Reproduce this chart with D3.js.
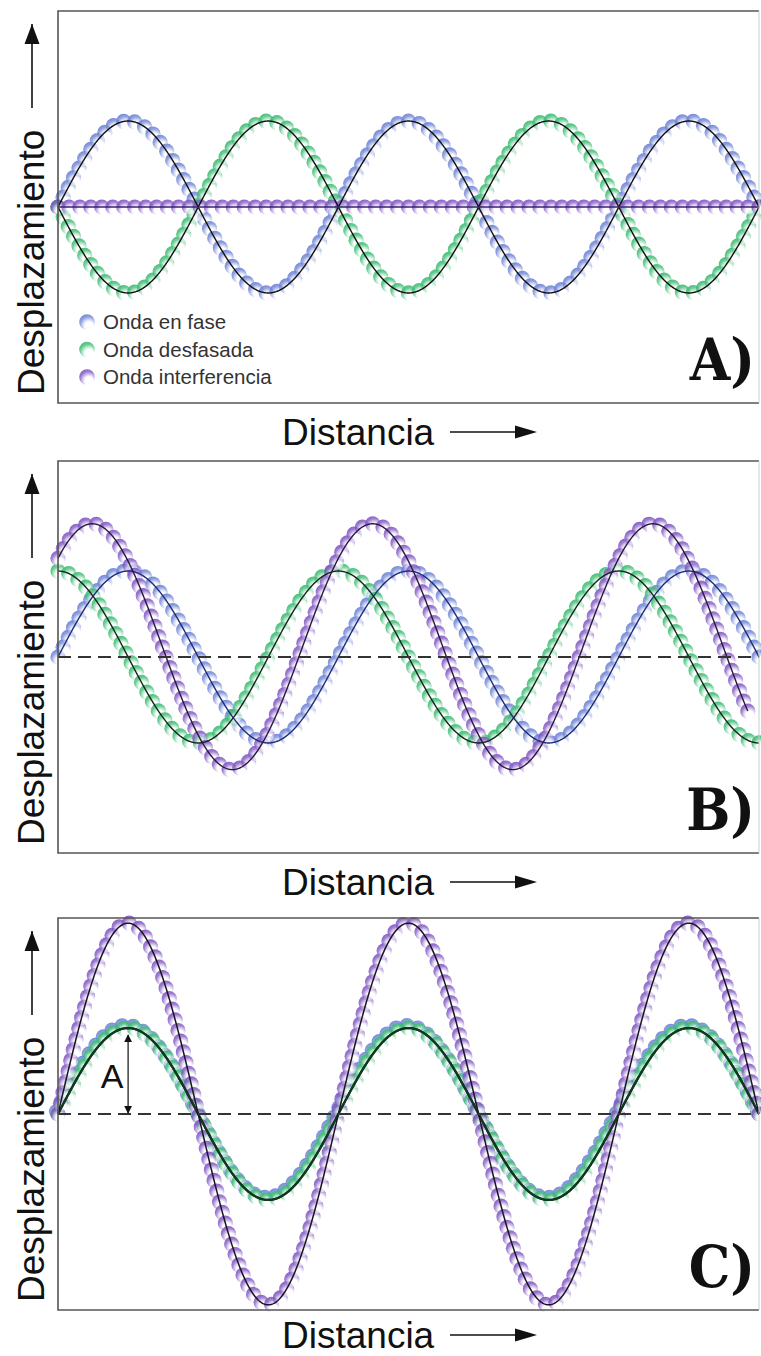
<!DOCTYPE html>
<html><head><meta charset="utf-8">
<script src="https://cdn.jsdelivr.net/npm/d3@7"></script>
<style>body{margin:0;background:#fff} svg{display:block}</style>
</head><body>
<script>
// Wave names (legend), panel tags and axis titles
const waveNames = ["Onda en fase", "Onda desfasada", "Onda interferencia"];
const panelLabels = ["A)", "B)", "C)"];
const axisTitles = ["Desplazamiento", "Distancia"];
const amplitudeMark = "A";

// Amplitude (in units of the in-phase wave), phase (degrees) and vertical offset of each wave, per panel
const amplitudesA = [1, 1, 0];
const phasesA = [0, 180, 0];
const offsetsA = [0, 0, 0];
const amplitudesB = [1, 1, 1.43];
const phasesB = [0, 90, 46];
const offsetsB = [0, 0, 0.12];
const amplitudesC = [1, 1, 2.22];
const phasesC = [0, 0, 0];
const offsetsC = [0, 0, 0];
// How many wavelengths each wave runs across its panel
const extentsA = [2.5, 2.5, 2.5];
const extentsB = [2.5, 2.5, 2.46];
const extentsC = [2.5, 2.5, 2.5];

const xDomain = [0, 2.5];      // distance, in wavelengths
const yDomain = [-2.28, 2.28]; // displacement

const panels = [
  {amp: amplitudesA, phase: phasesA, off: offsetsA, ext: extentsA, dashed: false, legend: true},
  {amp: amplitudesB, phase: phasesB, off: offsetsB, ext: extentsB, dashed: true},
  {amp: amplitudesC, phase: phasesC, off: offsetsC, ext: extentsC, dashed: true, mark: true}
];

const W = 761, H = 1356;
const left = 58, right = 759, panelH = 392;
const tops = [11, 461, 918];
const xTitleGap = [42, 42, 38];

const dotColors = ["#6f84d6", "#3dbd74", "#8258c4"];
const lineColors = [
  ["#111", "#111", "#3d2270"],
  ["#1f2c78", "#14261a", "#2a1840"],
  ["#14261a", "#0d3a1d", "#1c1424"]
];
const lineWidths = [[1.4, 1.4, 1.3], [1.4, 1.4, 1.4], [2.2, 2.2, 1.5]];

const svg = d3.select("body").append("svg").attr("width", W).attr("height", H);
const defs = svg.append("defs");
dotColors.forEach((c, i) => {
  const g = defs.append("radialGradient").attr("id", "dot" + i)
    .attr("cx", 0.6).attr("cy", 0.7).attr("r", 0.72).attr("fx", 0.64).attr("fy", 0.78);
  g.append("stop").attr("offset", "0%").attr("stop-color", "#fff").attr("stop-opacity", 0.9);
  g.append("stop").attr("offset", "35%").attr("stop-color", "#fff").attr("stop-opacity", 0.55);
  g.append("stop").attr("offset", "75%").attr("stop-color", c).attr("stop-opacity", 0.75);
  g.append("stop").attr("offset", "100%").attr("stop-color", c).attr("stop-opacity", 0.95);
});
defs.append("marker").attr("id", "head").attr("viewBox", "0 0 10 10")
  .attr("refX", 9).attr("refY", 5).attr("markerWidth", 8).attr("markerHeight", 8)
  .attr("orient", "auto-start-reverse").attr("markerUnits", "userSpaceOnUse")
  .append("path").attr("d", "M0,0L10,5L0,10Z").attr("fill", "#111");

const x = d3.scaleLinear().domain(xDomain).range([left, right]);

panels.forEach((p, pi) => {
  const top = tops[pi], bottom = top + panelH;
  const y = d3.scaleLinear().domain(yDomain).range([bottom, top]);
  const g = svg.append("g");

  const line = d3.line().x(d => x(d[0])).y(d => y(d[1]));
  const paths = p.amp.map((a, si) => {
    const pts = d3.range(0, p.ext[si] + 1e-9, 0.002)
      .map(t => [t, p.off[si] + a * Math.sin(2 * Math.PI * t + p.phase[si] * Math.PI / 180)]);
    return line(pts);
  });

  // dots evenly spaced along each wave
  p.amp.forEach((a, si) => {
    const tmp = g.append("path").attr("d", paths[si]).attr("fill", "none");
    const len = tmp.node().getTotalLength();
    const n = Math.round(len / 11);
    const dots = d3.range(n + 1).map(k => tmp.node().getPointAtLength(k * len / n));
    tmp.remove();
    const dg = g.append("g");
    if (pi === 2 && si === 0) dg.attr("transform", "translate(-1.5,-2.5)");
    dg.selectAll("circle").data(dots).join("circle")
      .attr("cx", d => d.x).attr("cy", d => d.y).attr("r", 7.6)
      .attr("fill", `url(#dot${si})`);
  });

  p.amp.forEach((a, si) => {
    g.append("path").attr("d", paths[si]).attr("fill", "none")
      .attr("stroke", lineColors[pi][si]).attr("stroke-width", lineWidths[pi][si]);
  });

  if (p.dashed) {
    g.append("line").attr("x1", left).attr("x2", right)
      .attr("y1", y(0)).attr("y2", y(0))
      .attr("stroke", "#333").attr("stroke-width", 1.8).attr("stroke-dasharray", "13,7");
  }

  // frame
  g.append("path").attr("d", `M${right},${top}H${left}V${bottom}H${right}`)
    .attr("fill", "none").attr("stroke", "#555").attr("stroke-width", 1.6);
  g.append("line").attr("x1", right).attr("x2", right).attr("y1", top).attr("y2", bottom)
    .attr("stroke", "#ccc").attr("stroke-width", 1);

  // amplitude marker
  if (p.mark) {
    const xm = x(0.25);
    g.append("line").attr("x1", xm).attr("x2", xm).attr("y1", y(0) - 1).attr("y2", y(p.amp[0]) + 7)
      .attr("stroke", "#111").attr("stroke-width", 1.2)
      .attr("marker-start", "url(#head)").attr("marker-end", "url(#head)");
    g.append("text").attr("x", xm - 16).attr("y", y(0) - 26).attr("text-anchor", "middle")
      .attr("font-family", "Liberation Sans, Arial, sans-serif").attr("font-size", 34)
      .attr("fill", "#111").text(amplitudeMark);
  }

  // panel tag
  g.append("text").attr("x", 755).attr("y", bottom - 23).attr("text-anchor", "end")
    .attr("font-family", "DejaVu Serif Condensed, DejaVu Serif, serif")
    .attr("font-stretch", "condensed").attr("font-weight", "bold").attr("font-size", 58)
    .attr("fill", "#111").text(panelLabels[pi]);

  // y axis title with arrow
  g.append("text").attr("transform", `translate(44,${bottom - 8}) rotate(-90)`)
    .attr("font-family", "Liberation Sans, Arial, sans-serif").attr("font-size", 37)
    .attr("fill", "#111").text(axisTitles[0]);
  g.append("line").attr("x1", 32).attr("x2", 32).attr("y1", bottom - 295).attr("y2", top + 13)
    .attr("stroke", "#111").attr("stroke-width", 1.6);
  g.append("path").attr("d", `M32,${top + 13}l-7.5,20h15z`).attr("fill", "#111");

  // x axis title with arrow
  g.append("text").attr("x", 282).attr("y", bottom + xTitleGap[pi])
    .attr("font-family", "Liberation Sans, Arial, sans-serif").attr("font-size", 37)
    .attr("fill", "#111").text(axisTitles[1]);
  const ya = bottom + xTitleGap[pi] - 13;
  g.append("line").attr("x1", 450).attr("x2", 525).attr("y1", ya).attr("y2", ya)
    .attr("stroke", "#111").attr("stroke-width", 1.6);
  g.append("path").attr("d", `M537,${ya}l-22,-6.5v13z`).attr("fill", "#111");

  // legend
  if (p.legend) {
    const lg = g.append("g");
    waveNames.forEach((name, i) => {
      const cy = 322 + i * 27.5;
      lg.append("circle").attr("cx", 87).attr("cy", cy).attr("r", 7.8).attr("fill", `url(#dot${i})`);
      lg.append("text").attr("x", 103).attr("y", cy + 7)
        .attr("font-family", "Liberation Sans, Arial, sans-serif").attr("font-size", 20.5)
        .attr("fill", "#333").text(name);
    });
  }
});
</script>
</body></html>
